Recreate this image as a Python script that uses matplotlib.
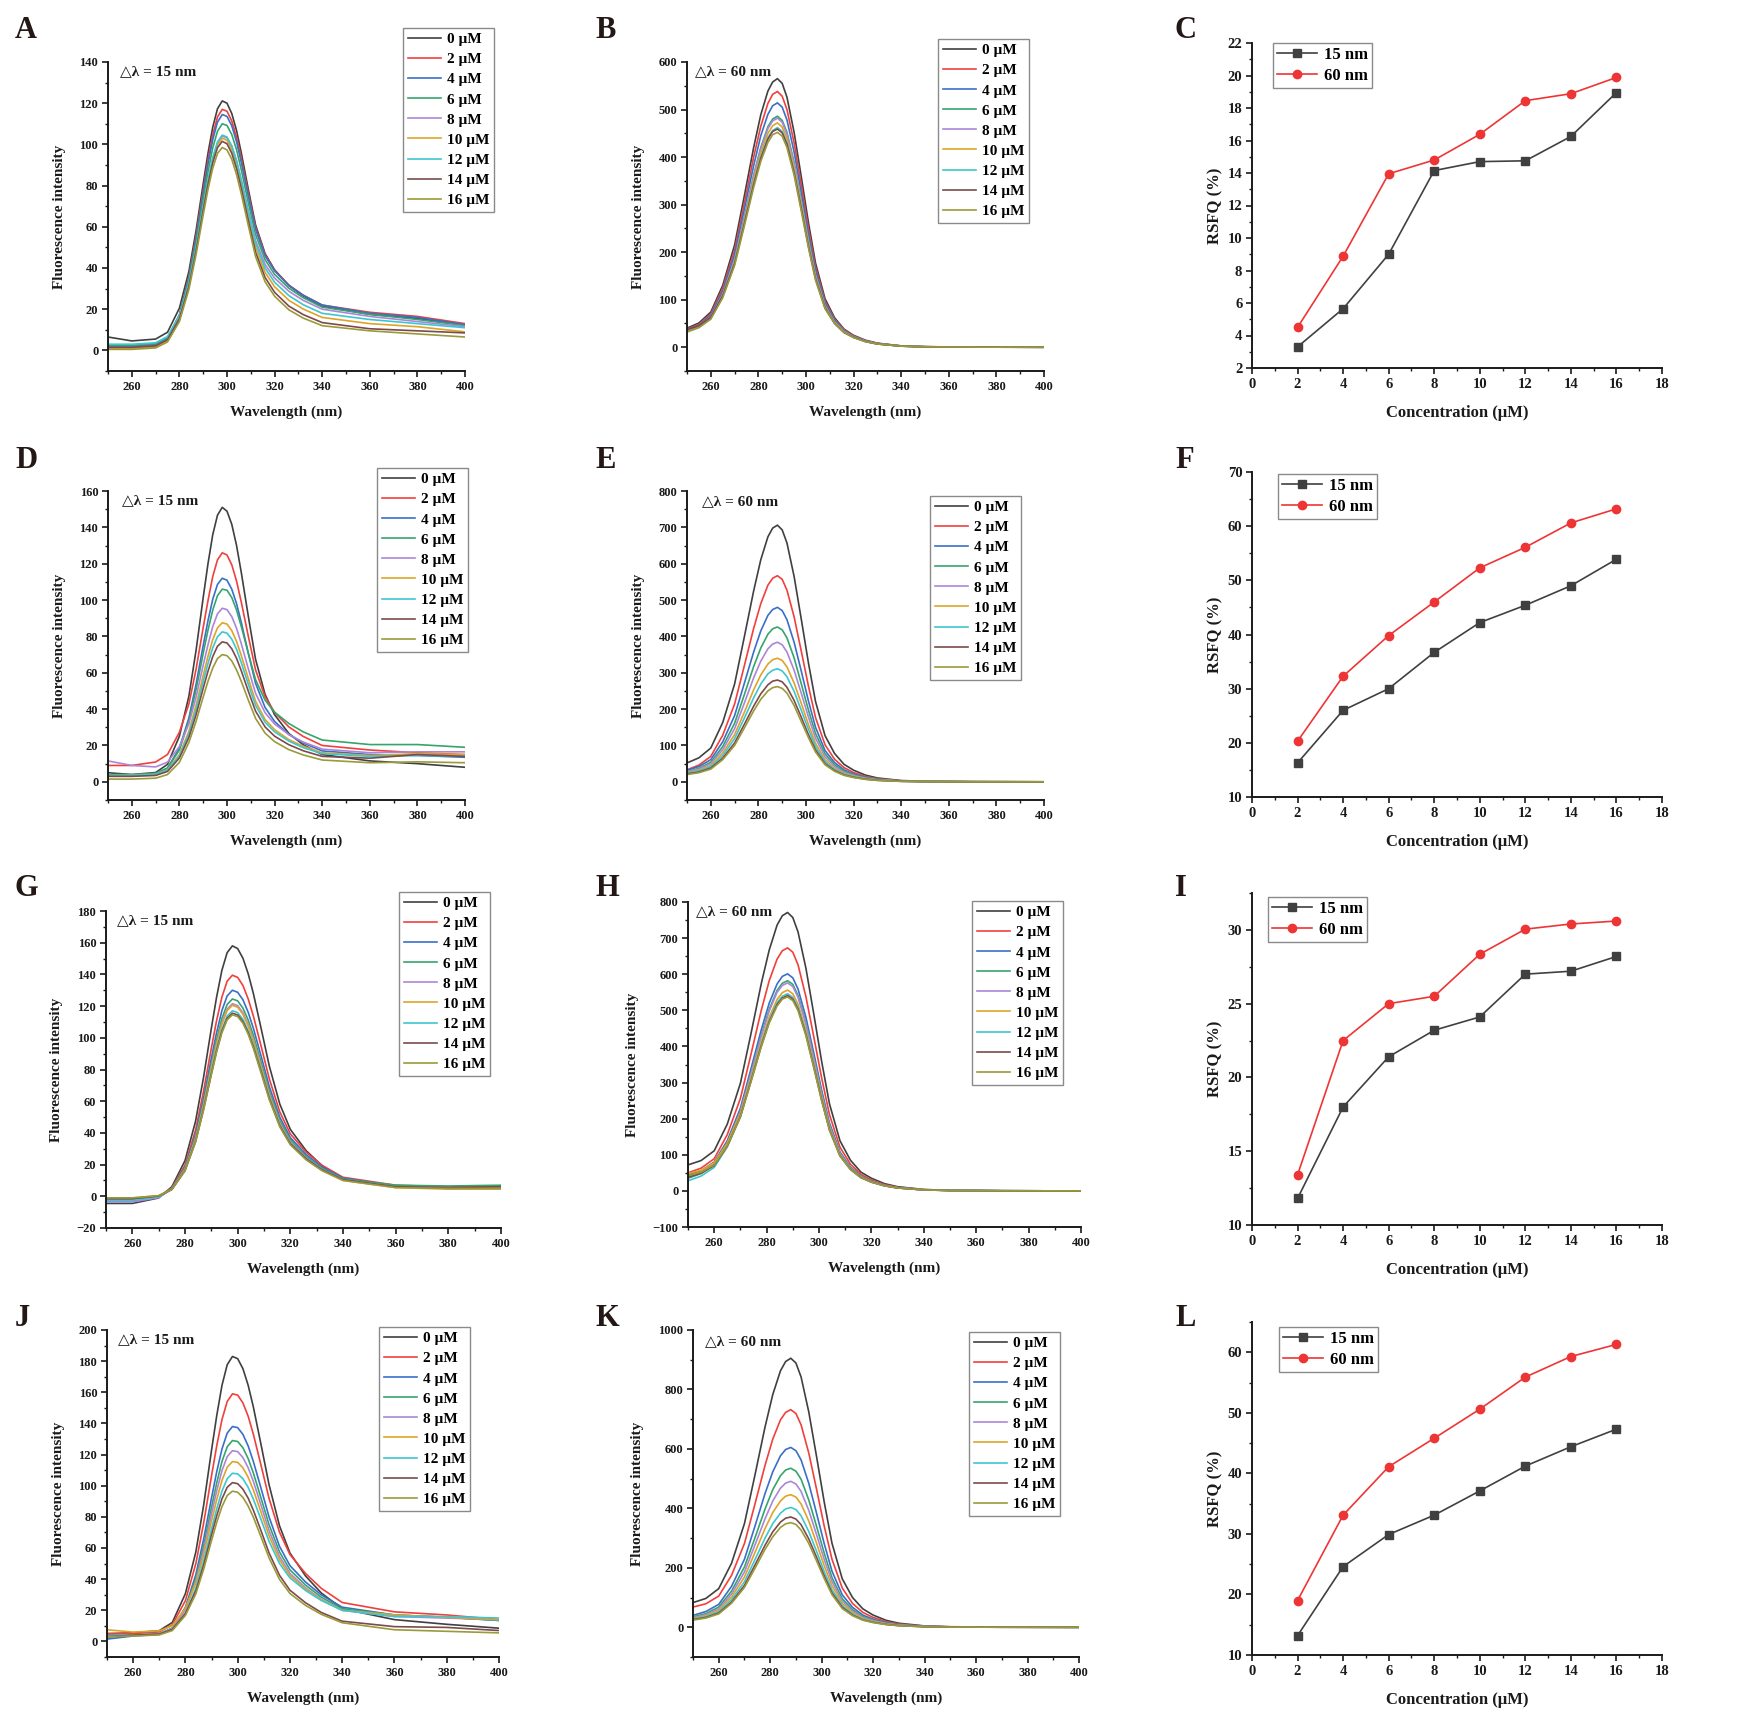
import matplotlib
matplotlib.use('Agg')
import matplotlib.pyplot as plt
from matplotlib.ticker import MultipleLocator

plt.rcParams['font.family'] = ['Liberation Serif', 'DejaVu Serif', 'DejaVu Sans']
plt.rcParams['font.weight'] = 'bold'
plt.rcParams['axes.labelweight'] = 'bold'
plt.rcParams['axes.unicode_minus'] = True

# ---------------- data ----------------
CONC_LABELS = ['0 µM', '2 µM', '4 µM', '6 µM', '8 µM', '10 µM', '12 µM', '14 µM', '16 µM']
COLORS = ['#404040', '#f0403c', '#3a6fc8', '#36a46d', '#ab86d8', '#dea42a', '#3ec6d0', '#7c4a4a', '#9a9a3a']

# wavelength grids (nm)
W15 = [250, 260, 270, 275, 280, 284, 287, 290, 292, 294, 296, 298, 300, 302, 304, 306, 309, 312, 316, 320, 326, 332, 340, 360, 380, 400]
W60 = [250, 255, 260, 265, 270, 274, 278, 281, 284, 286, 288, 290, 292, 295, 298, 301, 304, 308, 312, 316, 320, 325, 330, 340, 350, 370, 400]

# Panel A (delta lambda = 15 nm)
A0 = [6.5, 4.6, 5.5, 8.8, 20.5, 38.4, 58.1, 80.9, 95.6, 108.3, 117.3, 121.1, 120, 115, 106.8, 95.9, 77.9, 60.9, 47, 39.1, 31.5, 26.4, 21.5, 17.5, 15.5, 12.5]
A2 = [2, 2, 2.8, 6.1, 17.2, 35.9, 55.5, 77.9, 92.3, 104.5, 113.3, 117, 116.1, 111.4, 103.5, 93.2, 76, 59.7, 46.5, 38.9, 31.7, 26.8, 22, 18.5, 16.5, 13]
A4 = [2, 2, 2.8, 6, 16.9, 35.1, 54.3, 76.2, 90.3, 102.3, 110.8, 114.5, 113.6, 109.1, 101.4, 91.3, 74.6, 58.8, 45.9, 38.6, 31.5, 26.8, 22, 18, 16, 12.5]
A6 = [2.5, 2.5, 3.3, 6.3, 16.8, 34, 52.3, 73.3, 86.7, 98.3, 106.4, 110, 109.2, 104.8, 97.5, 87.7, 71.5, 56.3, 44, 36.9, 30.2, 25.6, 21, 17.5, 15, 12]
A8 = [1.5, 1.5, 2.2, 5.1, 15, 31.8, 49.3, 69.3, 82, 92.9, 100.6, 104, 103.2, 99.1, 92.2, 82.9, 67.7, 53.4, 41.7, 35.1, 28.7, 24.3, 20, 16.5, 14, 11.5]
A10 = [1, 1, 1.7, 4.7, 14.8, 31.2, 48.8, 68.7, 81.4, 92.3, 99.8, 103, 102, 97.5, 90.3, 80.7, 65, 50.1, 37.9, 30.9, 24.3, 20.1, 16, 13, 11.5, 9]
A12 = [3, 3, 3.7, 6.7, 16.8, 32.7, 49.9, 69.8, 82.5, 93.6, 101.2, 104.5, 103.6, 99.2, 92, 82.5, 66.9, 52.1, 40, 33.1, 26.6, 22.2, 18, 15, 13, 11]
A14 = [1.5, 1.5, 2.2, 5.2, 15.3, 31.1, 48.2, 67.9, 80.4, 91.1, 98.4, 101.5, 100.3, 95.7, 88.3, 78.7, 62.8, 47.7, 35.4, 28.2, 21.5, 17.4, 13.5, 10.5, 9.5, 8.5]
A16 = [0.5, 0.5, 1.2, 4.1, 14, 29.7, 46.5, 65.8, 78.1, 88.4, 95.6, 98.5, 97.3, 92.8, 85.4, 76, 60.4, 45.6, 33.3, 26.3, 19.7, 15.7, 12, 9.5, 8, 6.5]

# Panel D (15 nm)
D0 = [5, 4, 5.1, 9.6, 25.1, 47.2, 72.3, 101.4, 119.9, 135.9, 146.7, 151, 148.9, 141.7, 130.1, 115.2, 90.7, 67.4, 48.1, 36.9, 26.6, 20.4, 15, 11.5, 10, 8]
D2 = [9, 9, 10.9, 15, 27.3, 42.9, 61.9, 84.9, 99.6, 112.9, 122.1, 126, 124.8, 119.4, 110.5, 98.9, 79.8, 61.6, 46.8, 38.2, 30.2, 25, 20, 17.5, 16, 15]
D4 = [3.5, 3.5, 4.3, 7.5, 18.5, 35.2, 53.6, 75, 88.6, 100.4, 108.6, 112, 110.9, 106, 98.1, 87.7, 70.5, 54.2, 40.9, 33.2, 26, 21.4, 17, 15, 14.5, 13.5]
D6 = [4, 4, 4.7, 7.6, 17.5, 33.6, 50.7, 70.7, 83.4, 94.5, 102.4, 106, 105.4, 101.4, 94.6, 85.5, 70.5, 56.2, 44.9, 38.3, 32.1, 27.5, 23, 20.5, 20.5, 19]
D8 = [11.5, 9, 8.2, 10.8, 19.4, 32, 46.6, 64.2, 75.3, 85.4, 92.4, 95.5, 94.7, 90.9, 84.5, 76, 62, 48.7, 38, 31.8, 26, 21.9, 18, 16, 16.5, 16.5]
D10 = [3.5, 3.5, 4.1, 6.6, 15, 27.9, 42.1, 58.5, 69, 78.2, 84.7, 87.5, 86.8, 83.2, 77.3, 69.5, 56.6, 44.3, 34.3, 28.7, 23.2, 19.6, 16, 14.5, 15.5, 15]
D12 = [3.5, 3.5, 4.1, 6.4, 14.2, 26.4, 39.7, 55.2, 65.1, 73.7, 79.8, 82.5, 81.8, 78.5, 73, 65.6, 53.5, 42.1, 32.8, 27.5, 22.4, 18.8, 15.5, 14, 14.5, 14]
D14 = [3, 3, 3.5, 5.7, 13.1, 24.5, 36.9, 51.5, 60.8, 68.9, 74.6, 77, 76.4, 73.2, 68, 61.1, 49.7, 38.9, 30.2, 25.1, 20.4, 17.1, 14, 13, 15, 14]
D16 = [1.5, 1.5, 2, 4, 10.7, 21.7, 33.3, 46.7, 55.3, 62.6, 67.8, 70, 69.4, 66.5, 61.6, 55.3, 44.8, 34.9, 26.8, 22.1, 17.7, 14.8, 12, 10.5, 11, 10.5]

# Panel G (15 nm)
G0 = [-4.5, -4.5, -1.05, 6, 22.5, 47.3, 74.6, 105.9, 125.7, 142.5, 153.7, 158, 156.3, 150.2, 140.4, 127.7, 105.2, 82.3, 58.2, 42.2, 28.8, 19.4, 11, 6.5, 5.5, 6]
G2 = [-2, -2, 0, 5.2, 19.7, 41.7, 65.8, 93.4, 110.9, 125.6, 135.7, 139.5, 138.1, 133, 124.5, 113.5, 94.1, 74.2, 53.2, 39.4, 27.8, 19.6, 12, 7, 6, 6.5]
G4 = [-3, -3, -0.5, 4.9, 18.3, 38.9, 61.4, 87, 103.3, 117.1, 126.4, 130, 128.7, 124, 116.1, 105.8, 87.8, 69.3, 49.9, 37, 26.3, 18.5, 11.5, 6.5, 5.5, 5.5]
G6 = [-2, -2, -0.1, 4.7, 17.5, 37.2, 58.8, 83.3, 98.9, 112.1, 121, 124.5, 123.3, 118.7, 111.2, 101.4, 84, 66.4, 47.8, 35.5, 25.1, 17.7, 11, 7, 6.5, 7]
G8 = [-3.5, -3.5, -0.85, 4.6, 17.1, 36.3, 57.4, 81.3, 96.6, 109.4, 118.1, 121.5, 120.3, 115.8, 108.4, 98.8, 81.9, 64.6, 46.4, 34.4, 24.4, 17, 10.5, 6, 5.5, 5.5]
G10 = [-1, -1, 0.4, 4.5, 17, 36.1, 56.9, 80.7, 95.8, 108.5, 117.2, 120.5, 119.3, 114.8, 107.5, 97.9, 81, 63.8, 45.7, 33.7, 23.7, 16.5, 10, 5.5, 4.5, 4.5]
G12 = [-2.5, -2.5, -0.35, 4.4, 16.4, 35, 55.3, 78.3, 93, 105.3, 113.7, 117, 115.9, 111.6, 104.5, 95.3, 79.1, 62.5, 45, 33.5, 23.9, 16.8, 10.5, 6, 5, 5]
G14 = [-1.5, -1.5, 0.15, 4.3, 16.2, 34.5, 54.6, 77.3, 91.8, 104, 112.3, 115.5, 114.4, 110.2, 103.2, 94.1, 78.2, 61.8, 44.5, 33.2, 23.7, 16.7, 10.5, 6, 5.5, 6]
G16 = [-1, -1, 0.4, 4.3, 16.1, 34.3, 54.1, 76.7, 91, 103.1, 111.3, 114.5, 113.4, 109.2, 102.2, 93.2, 77.2, 61, 43.8, 32.5, 23, 16.2, 10, 5.5, 5, 5]

# Panel J (15 nm)
J0 = [5, 5.5, 6.9, 12.2, 30.7, 57.5, 87.7, 122.8, 145.1, 164.5, 177.7, 183, 181.6, 175.2, 164.6, 150.6, 125.9, 100.7, 74.3, 56.8, 42, 31.1, 21, 14, 11, 8.5]
J2 = [5, 5, 6.1, 10.7, 26.2, 50, 76.1, 106.4, 125.7, 142.5, 154.1, 159, 158.2, 153.2, 144.7, 133.1, 112.7, 91.9, 70.2, 55.8, 43.6, 34.1, 25, 19, 17, 14]
J4 = [1.5, 3.5, 4.5, 8.4, 21.9, 42.9, 65.8, 92.2, 109.1, 123.6, 133.8, 138, 137.3, 133, 125.6, 115.6, 98, 80, 61.1, 48.7, 38.1, 29.9, 22, 17, 15.5, 13.5]
J6 = [4, 4, 4.9, 8.6, 21.1, 40.5, 61.7, 86.2, 101.9, 115.6, 125, 129, 128.4, 124.4, 117.5, 108.2, 91.7, 75, 57.5, 46, 36.1, 28.4, 21, 17, 15.5, 13.5]
J8 = [3.5, 4, 4.9, 8.3, 20.3, 38.6, 58.6, 81.9, 96.8, 109.7, 118.7, 122.5, 121.9, 118.1, 111.6, 102.8, 87.2, 71.2, 54.6, 43.7, 34.3, 27, 20, 16, 15, 14]
J10 = [7.5, 6, 6.8, 10.1, 21.2, 37.5, 55.8, 77.4, 91.2, 103.4, 111.9, 115.5, 115, 111.5, 105.5, 97.3, 82.7, 67.9, 52.5, 42.3, 33.6, 26.7, 20, 17, 15.5, 14]
J12 = [3, 4, 4.8, 7.8, 18.1, 34.2, 51.8, 72.2, 85.2, 96.6, 104.5, 108, 107.6, 104.5, 99, 91.4, 78, 64.3, 50.1, 40.8, 32.7, 26.3, 20, 16, 16, 15]
J14 = [3, 4, 4.7, 7.7, 17.9, 32.5, 49, 68.5, 80.8, 91.6, 99, 102, 101.3, 97.8, 92.1, 84.3, 70.8, 56.9, 42.5, 32.9, 24.8, 18.6, 13, 9.5, 9, 7]
J16 = [3, 3.5, 4.2, 7, 16.7, 30.6, 46.4, 64.8, 76.5, 86.6, 93.7, 96.5, 95.8, 92.5, 87, 79.8, 66.9, 53.7, 39.9, 30.8, 23.1, 17.4, 12, 7.5, 6.5, 5.5]

# Panel B (delta lambda = 60 nm)
B0 = [40, 51, 74, 130, 215, 316, 420, 489, 539, 558, 565, 555, 526, 452, 359, 263, 177, 102, 62, 38, 25, 14.7, 8.5, 2.8, 1.1, 0.3, 0]
B2 = [38, 48, 70, 124, 204, 301, 400, 465, 513, 532, 538, 528, 500, 430, 342, 250, 168, 97, 59, 37, 24, 14, 8.1, 2.7, 1.1, 0.3, 0]
B4 = [36, 46, 67, 118, 195, 288, 382, 445, 490, 508, 514, 505, 478, 411, 326, 239, 161, 93, 57, 35, 23, 13.4, 7.7, 2.6, 1, 0.3, 0]
B6 = [33, 43, 63, 111, 184, 272, 362, 420, 464, 480, 486, 477, 452, 389, 309, 226, 152, 88, 53, 33, 22, 12.6, 7.3, 2.4, 1, 0.2, 0]
B8 = [35, 44, 64, 111, 184, 270, 359, 417, 460, 476, 482, 473, 448, 386, 306, 224, 151, 87, 53, 33, 22, 12.5, 7.2, 2.4, 1, 0.2, 0]
B10 = [33, 42.5, 61, 109, 179, 264, 351, 408, 450, 466, 472, 463, 439, 378, 300, 219, 148, 85, 52, 32, 21, 12.3, 7.1, 2.4, 0.9, 0.2, 0]
B12 = [35, 44, 62, 107, 176, 259, 344, 400, 441, 456, 462, 454, 430, 370, 293, 215, 145, 83, 51, 31, 21, 12, 6.9, 2.3, 0.9, 0.2, 0]
B14 = [37, 45, 63, 108, 176, 258, 342, 397, 438, 454, 459, 451, 427, 367, 292, 213, 144, 83, 50, 31, 21, 11.9, 6.9, 2.3, 0.9, 0.2, 0]
B16 = [32, 41, 59, 104, 172, 253, 336, 391, 431, 447, 452, 444, 420, 362, 287, 210, 141, 81, 50, 31, 20, 11.8, 6.8, 2.3, 0.9, 0.2, 0]

# Panel E (60 nm)
E0 = [52, 66, 93, 163, 269, 396, 525, 611, 674, 698, 706, 693, 657, 565, 448, 328, 221, 127, 78, 48, 32, 18.4, 10.6, 3.5, 1.4, 0.4, 0]
E2 = [33, 46, 70, 128, 214, 317, 422, 490, 541, 560, 567, 557, 527, 454, 360, 264, 177, 102, 62, 39, 25.5, 14.7, 8.5, 2.8, 1.1, 0.3, 0]
E4 = [32, 42, 61, 110, 182, 269, 357, 415, 458, 474, 480, 471, 446, 384, 305, 223, 150, 86, 53, 33, 21.6, 12.5, 7.2, 2.4, 1, 0.2, 0]
E6 = [28, 37, 54, 97, 161, 238, 317, 368, 406, 421, 426, 418, 396, 341, 270, 198, 133, 77, 47, 29, 19.2, 11.1, 6.4, 2.1, 0.9, 0.2, 0]
E8 = [27, 35, 50, 88, 146, 215, 286, 332, 366, 379, 384, 377, 357, 307, 244, 179, 120, 69, 42, 26, 17.3, 10, 5.8, 1.9, 0.8, 0.2, 0]
E10 = [25, 32, 45, 79, 130, 190, 253, 294, 324, 336, 340, 334, 316, 272, 216, 158, 106, 61, 37, 23, 15.3, 8.8, 5.1, 1.7, 0.7, 0.2, 0]
E12 = [24, 30, 42, 72, 119, 174, 231, 269, 297, 307, 311, 305, 289, 249, 197, 145, 97, 56, 34, 21, 14, 8.1, 4.7, 1.6, 0.6, 0.2, 0]
E14 = [22, 27, 38, 65, 107, 157, 208, 242, 267, 277, 280, 275, 260, 224, 178, 130, 88, 50, 31, 19, 12.6, 7.3, 4.2, 1.4, 0.6, 0.1, 0]
E16 = [20, 25, 35, 61, 100, 147, 195, 227, 250, 259, 262, 257, 244, 210, 166, 122, 82, 47, 29, 17.8, 11.8, 6.8, 3.9, 1.3, 0.5, 0.1, 0]

# Panel H (60 nm)
H0 = [72, 84, 111, 185, 298, 434, 575, 667, 736, 762, 771, 757, 717, 617, 490, 359, 241, 139, 85, 52, 35, 20, 11.6, 3.9, 1.5, 0.4, 0]
H2 = [50, 63, 89, 156, 256, 377, 501, 582, 642, 665, 673, 661, 626, 538, 427, 313, 211, 121, 74, 46, 30, 17.5, 10.1, 3.4, 1.3, 0.3, 0]
H4 = [45, 56, 80, 139, 229, 337, 447, 520, 573, 594, 601, 590, 559, 481, 382, 279, 188, 108, 66, 41, 27, 15.6, 9, 3, 1.2, 0.3, 0]
H6 = [35, 48, 72, 132, 220, 325, 433, 503, 555, 575, 582, 572, 541, 466, 370, 271, 182, 105, 64, 40, 26, 15.1, 8.7, 2.9, 1.2, 0.3, 0]
H8 = [40, 52, 75, 132, 219, 323, 428, 498, 550, 569, 576, 566, 536, 461, 366, 268, 180, 104, 63, 39, 26, 15, 8.6, 2.9, 1.2, 0.3, 0]
H10 = [48, 57, 78, 132, 214, 313, 414, 481, 530, 549, 556, 546, 517, 445, 353, 259, 174, 100, 61, 38, 25, 14.5, 8.3, 2.8, 1.1, 0.3, 0]
H12 = [28, 41, 65, 122, 205, 305, 406, 472, 521, 539, 546, 536, 508, 437, 347, 254, 171, 98, 60, 37, 24.6, 14.2, 8.2, 2.7, 1.1, 0.3, 0]
H14 = [38, 49, 70, 124, 206, 303, 402, 468, 516, 534, 541, 531, 503, 433, 344, 252, 169, 97, 60, 37, 24.3, 14.1, 8.1, 2.7, 1.1, 0.3, 0]
H16 = [42, 52, 72, 125, 205, 301, 400, 465, 512, 531, 537, 527, 499, 430, 341, 250, 168, 97, 59, 36.5, 24.2, 14, 8.1, 2.7, 1.1, 0.3, 0]

# Panel K (60 nm)
K0 = [83, 97, 130, 216, 349, 509, 674, 783, 863, 894, 905, 889, 842, 724, 575, 421, 283, 163, 100, 62, 41, 23.5, 13.6, 4.5, 1.8, 0.5, 0]
K2 = [68, 79, 105, 175, 282, 412, 545, 633, 698, 723, 732, 719, 681, 586, 465, 340, 229, 132, 80, 50, 33, 19, 11, 3.7, 1.5, 0.4, 0]
K4 = [40, 53, 77, 138, 229, 338, 450, 523, 577, 598, 605, 594, 563, 484, 384, 281, 189, 109, 67, 41, 27, 15.7, 9.1, 3, 1.2, 0.3, 0]
K6 = [35, 46, 68, 122, 203, 299, 398, 463, 510, 529, 535, 525, 498, 428, 340, 249, 167, 96, 59, 36, 24, 13.9, 8, 2.7, 1.1, 0.3, 0]
K8 = [32, 42, 62, 112, 186, 275, 365, 425, 468, 485, 491, 482, 457, 393, 312, 228, 154, 88, 54, 33, 22, 12.8, 7.4, 2.5, 1, 0.2, 0]
K10 = [30, 39, 57, 102, 169, 250, 332, 386, 425, 441, 446, 438, 415, 357, 283, 207, 140, 80, 49, 30, 20, 11.6, 6.7, 2.2, 0.9, 0.2, 0]
K12 = [28, 36, 52, 93, 153, 226, 300, 349, 384, 398, 403, 396, 375, 322, 256, 187, 126, 72.5, 44, 27, 18.1, 10.5, 6, 2, 0.8, 0.2, 0]
K14 = [26, 33, 48, 85, 141, 208, 276, 321, 354, 367, 371, 364, 345, 297, 236, 173, 116, 67, 41, 25, 16.7, 9.6, 5.6, 1.9, 0.7, 0.2, 0]
K16 = [24, 31, 45, 81, 134, 197, 262, 304.5, 336, 348, 352, 346, 327, 282, 223.5, 164, 110, 63, 39, 24, 15.8, 9.2, 5.3, 1.8, 0.7, 0.2, 0]

# RSFQ (%) vs concentration (µM)
CONC = [2, 4, 6, 8, 10, 12, 14, 16]
C_15 = [3.3, 5.65, 9.0, 14.15, 14.7, 14.75, 16.25, 18.95]
C_60 = [4.5, 8.88, 13.95, 14.8, 16.38, 18.45, 18.88, 19.88]
F_15 = [16.3, 26.0, 30.0, 36.7, 42.2, 45.4, 49.0, 53.9]
F_60 = [20.3, 32.3, 39.8, 46.0, 52.3, 56.1, 60.6, 63.2]
I_15 = [11.8, 18.0, 21.4, 23.2, 24.1, 27.0, 27.2, 28.2]
I_60 = [13.4, 22.5, 25.0, 25.5, 28.35, 30.05, 30.4, 30.6]
L_15 = [13.2, 24.6, 29.9, 33.1, 37.1, 41.2, 44.4, 47.3]
L_60 = [19.0, 33.1, 41.1, 45.8, 50.6, 55.9, 59.3, 61.3]

# ---------------- figure ----------------
FW, FH = 1738, 1725
fig = plt.figure(figsize=(FW / 100, FH / 100), dpi=100)
INK = '#1a1a1a'


def add_ax(l, t, r, b):
    return fig.add_axes([l / FW, 1 - b / FH, (r - l) / FW, (b - t) / FH])


def style(ax, ymaj, ymin, xmaj, xmin, tsize):
    for s in ['top', 'right']:
        ax.spines[s].set_visible(False)
    for s in ['left', 'bottom']:
        ax.spines[s].set_linewidth(1.4)
        ax.spines[s].set_color(INK)
    ax.xaxis.set_major_locator(MultipleLocator(xmaj))
    ax.xaxis.set_minor_locator(MultipleLocator(xmin))
    ax.yaxis.set_major_locator(MultipleLocator(ymaj))
    ax.yaxis.set_minor_locator(MultipleLocator(ymin))
    ax.tick_params(which='major', direction='out', length=4.5, width=1.2,
                   labelsize=tsize, pad=2.5, colors=INK)
    ax.tick_params(which='minor', direction='out', length=2.5, width=1.0, colors=INK)


def fig_pt(x, y):
    return (x / FW, 1 - y / FH)


def spectra(box, wl, curves, ylim, ymaj, ymin, dl_text, dl_pos, leg_pos):
    ax = add_ax(*box)
    for y, c, lab in zip(curves, COLORS, CONC_LABELS):
        ax.plot(wl, y, color=c, lw=1.2, label=lab, solid_joinstyle='round')
    ax.set_xlim(250, 400)
    ax.set_ylim(*ylim)
    style(ax, ymaj, ymin, 20, 10, 9)
    ax.set_xlabel('Wavelength (nm)', fontsize=11, labelpad=9, color=INK)
    ax.set_ylabel('Fluorescence intensity', fontsize=11, labelpad=10, color=INK)
    fig.text(*fig_pt(*dl_pos), dl_text, fontsize=11, ha='left', va='center',
             color=INK, family=['Liberation Serif', 'DejaVu Sans'])
    ax.legend(loc='upper left', bbox_to_anchor=fig_pt(*leg_pos),
              bbox_transform=fig.transFigure, borderaxespad=0,
              frameon=True, fancybox=False, edgecolor='#8a8a8a', framealpha=1,
              prop={'size': 11, 'weight': 'bold'}, handlelength=2.2,
              handletextpad=0.4, labelspacing=0.42, borderpad=0.3)
    return ax


def rsfq(box, y15, y60, ylim, ymaj, ymin, leg_pos):
    ax = add_ax(*box)
    ax.plot(CONC, y15, color='#404040', lw=1.2, marker='s', ms=5.5, label='15 nm')
    ax.plot(CONC, y60, color='#ee3535', lw=1.2, marker='o', ms=6, label='60 nm')
    ax.set_xlim(0, 18)
    ax.set_ylim(*ylim)
    style(ax, ymaj, ymin, 2, 1, 10.5)
    ax.set_xlabel('Concentration (µM)', fontsize=12, labelpad=10, color=INK)
    ax.set_ylabel('RSFQ (%)', fontsize=12, labelpad=3, color=INK)
    ax.legend(loc='upper left', bbox_to_anchor=fig_pt(*leg_pos),
              bbox_transform=fig.transFigure, borderaxespad=0,
              frameon=True, fancybox=False, edgecolor='#8a8a8a', framealpha=1,
              prop={'size': 12, 'weight': 'bold'}, handlelength=2.4,
              handletextpad=0.4, labelspacing=0.3, borderpad=0.25)
    return ax


spectra((108, 62, 465, 371), W15, [A0, A2, A4, A6, A8, A10, A12, A14, A16],
        (-10, 140), 20, 10, '△λ = 15 nm', (120, 72), (403, 28))
spectra((687, 62, 1044, 371), W60, [B0, B2, B4, B6, B8, B10, B12, B14, B16],
        (-50, 600), 100, 50, '△λ = 60 nm', (695, 72), (938, 39))
rsfq((1252, 43, 1662, 368), C_15, C_60, (2, 22), 2, 1, (1273, 43))

spectra((108, 491, 465, 800), W15, [D0, D2, D4, D6, D8, D10, D12, D14, D16],
        (-10, 160), 20, 10, '△λ = 15 nm', (122, 501), (377, 468))
spectra((687, 491, 1044, 800), W60, [E0, E2, E4, E6, E8, E10, E12, E14, E16],
        (-50, 800), 100, 50, '△λ = 60 nm', (702, 502), (930, 496))
rsfq((1252, 472, 1662, 797), F_15, F_60, (10, 70), 10, 5, (1278, 474))

spectra((106, 911, 501, 1228), W15, [G0, G2, G4, G6, G8, G10, G12, G14, G16],
        (-20, 180), 20, 10, '△λ = 15 nm', (117, 921), (399, 892))
spectra((688, 902, 1081, 1227), W60, [H0, H2, H4, H6, H8, H10, H12, H14, H16],
        (-100, 800), 100, 50, '△λ = 60 nm', (696, 912), (972, 901))
rsfq((1252, 893, 1662, 1225), I_15, I_60, (10, 32.5), 5, 2.5, (1268, 897))

spectra((107, 1330, 499, 1657), W15, [J0, J2, J4, J6, J8, J10, J12, J14, J16],
        (-10, 200), 20, 10, '△λ = 15 nm', (118, 1340), (379, 1327))
spectra((693, 1330, 1079, 1657), W60, [K0, K2, K4, K6, K8, K10, K12, K14, K16],
        (-100, 1000), 200, 100, '△λ = 60 nm', (705, 1342), (969, 1332))
rsfq((1252, 1322, 1662, 1655), L_15, L_60, (10, 65), 10, 5, (1279, 1327))

# panel letters
LETTERS = ['A', 'B', 'C', 'D', 'E', 'F', 'G', 'H', 'I', 'J', 'K', 'L']
LX = [15, 595, 1175]
LY = [30, 460, 888, 1318]
for i, letter in enumerate(LETTERS):
    fig.text(*fig_pt(LX[i % 3], LY[i // 3]), letter, fontsize=22, fontweight='bold',
             ha='left', va='center', color='#231815')

fig.savefig('out.png', dpi=100, facecolor='white')
